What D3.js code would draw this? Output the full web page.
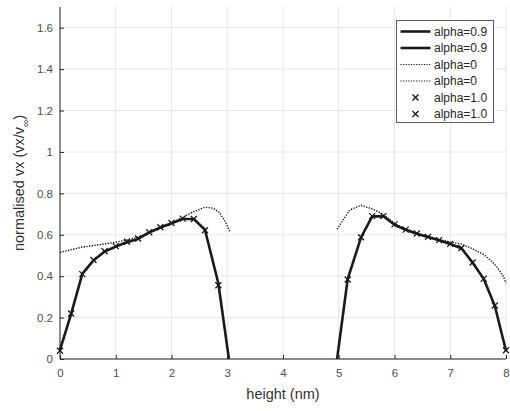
<!DOCTYPE html>
<html>
<head>
<meta charset="utf-8">
<script src="https://cdn.jsdelivr.net/npm/d3@7"></script>
<style>
  html, body { margin: 0; padding: 0; background: #fff; }
  svg { display: block; font-family: "Liberation Sans", Arial, Helvetica, sans-serif; }
</style>
</head>
<body>
<svg id="chart" width="510" height="411"></svg>
<script>
// Velocity profiles across the channel height (left wall region and right wall region)
const leftX      = [0, 0.2, 0.4, 0.6, 0.8, 1.0, 1.2, 1.4, 1.6, 1.8, 2.0, 2.2, 2.4, 2.6, 2.84, 3.03];
const leftSolid  = [0.044, 0.218, 0.411, 0.476, 0.519, 0.543, 0.564, 0.580, 0.611, 0.635, 0.656, 0.676, 0.676, 0.624, 0.366, 0];
const rightX     = [4.97, 5.16, 5.4, 5.6, 5.8, 6.0, 6.2, 6.4, 6.6, 6.8, 7.0, 7.2, 7.4, 7.6, 7.8, 8.0];
const rightSolid = [0, 0.386, 0.587, 0.689, 0.689, 0.648, 0.624, 0.605, 0.589, 0.573, 0.555, 0.535, 0.466, 0.387, 0.256, 0.040];

// alpha = 0 profiles (dotted)
const leftDotX   = [0, 0.2, 0.4, 0.6, 0.8, 1.0, 1.2, 1.4, 1.6, 1.8, 2.0, 2.2, 2.4, 2.6, 2.75, 2.85, 2.95, 3.05];
const leftDot    = [0.515, 0.528, 0.540, 0.548, 0.556, 0.564, 0.575, 0.588, 0.610, 0.633, 0.656, 0.685, 0.712, 0.733, 0.728, 0.710, 0.670, 0.615];
const rightDotX  = [4.97, 5.1, 5.2, 5.4, 5.6, 5.8, 6.0, 6.2, 6.4, 6.6, 6.8, 7.0, 7.2, 7.4, 7.6, 7.75, 7.85, 7.95, 8.0];
const rightDot   = [0.627, 0.680, 0.720, 0.742, 0.725, 0.700, 0.655, 0.628, 0.608, 0.592, 0.577, 0.565, 0.555, 0.532, 0.505, 0.470, 0.440, 0.400, 0.366];

// alpha = 1.0 samples (markers only)
const leftMarkX  = [0, 0.2, 0.4, 0.6, 0.8, 1.0, 1.2, 1.4, 1.6, 1.8, 2.0, 2.2, 2.4, 2.6, 2.84];
const leftMark   = [0.040, 0.220, 0.410, 0.478, 0.520, 0.545, 0.566, 0.582, 0.612, 0.636, 0.657, 0.678, 0.676, 0.622, 0.356];
const rightMarkX = [5.16, 5.4, 5.6, 5.8, 6.0, 6.2, 6.4, 6.6, 6.8, 7.0, 7.2, 7.4, 7.6, 7.8, 8.0];
const rightMark  = [0.384, 0.588, 0.690, 0.690, 0.650, 0.625, 0.606, 0.590, 0.574, 0.556, 0.536, 0.466, 0.388, 0.258, 0.042];

const xTicks = [0, 1, 2, 3, 4, 5, 6, 7, 8];
const yTicks = [0, 0.2, 0.4, 0.6, 0.8, 1, 1.2, 1.4, 1.6];
const legendLabels = ["alpha=0.9", "alpha=0.9", "alpha=0", "alpha=0", "alpha=1.0", "alpha=1.0"];

const margin = { left: 60, right: 4, top: 7, bottom: 52 };
const W = 510, H = 411;
const svg = d3.select("#chart");

const x = d3.scaleLinear().domain([0, 8]).range([margin.left, W - margin.right]);
const y = d3.scaleLinear().domain([0, 1.7]).range([H - margin.bottom, margin.top]);

const axisColor = "#262626";
const gridColor = "#e6e6e6";
const lineColor = "#1a1a1a";

// grid
const grid = svg.append("g");
grid.selectAll("line.v").data(xTicks).join("line")
  .attr("x1", d => x(d)).attr("x2", d => x(d))
  .attr("y1", y(0)).attr("y2", y(1.7))
  .attr("stroke", gridColor).attr("stroke-width", 1);
grid.selectAll("line.h").data(yTicks).join("line")
  .attr("x1", x(0)).attr("x2", x(8))
  .attr("y1", d => y(d)).attr("y2", d => y(d))
  .attr("stroke", gridColor).attr("stroke-width", 1);

// axes (inward ticks)
const xAxis = d3.axisBottom(x).tickValues(xTicks).tickSize(-4).tickPadding(10).tickFormat(d3.format("d"));
const yAxis = d3.axisLeft(y).tickValues(yTicks).tickSize(-4).tickPadding(7).tickFormat(d => d === 0 ? "0" : d3.format("~g")(d));

const gx = svg.append("g").attr("transform", `translate(0,${y(0)})`).call(xAxis);
const gy = svg.append("g").attr("transform", `translate(${x(0)},0)`).call(yAxis);
[gx, gy].forEach(g => {
  g.select(".domain").attr("stroke", axisColor).attr("stroke-width", 1);
  g.selectAll(".tick line").attr("stroke", axisColor);
  g.selectAll(".tick text").attr("fill", "#4d4d4d").attr("font-size", "11.5px")
    .attr("font-family", "Liberation Sans, Arial, sans-serif");
});
gx.select(".domain").attr("d", `M${x(0)},0H${x(8)}`);
gy.select(".domain").attr("d", `M0,${y(0)}V${y(1.7)}`);

// axis labels
svg.append("text")
  .attr("x", (x(0) + x(8)) / 2).attr("y", 399)
  .attr("text-anchor", "middle").attr("font-size", "14.5px").attr("fill", "#333")
  .text("height (nm)");

const yl = svg.append("text")
  .attr("transform", `translate(24,${(y(0) + y(1.7)) / 2}) rotate(-90)`)
  .attr("text-anchor", "middle").attr("font-size", "14.5px").attr("fill", "#333");
yl.append("tspan").text("normalised vx (vx/v");
yl.append("tspan").attr("font-size", "10px").attr("dy", "5").text("\u221E");
yl.append("tspan").attr("dy", "-5").text(")");

// series
const line = d3.line().x(d => x(d[0])).y(d => y(d[1]));
const zip = (xs, ys) => xs.map((v, i) => [v, ys[i]]);

const plot = svg.append("g");
function drawSolid(xs, ys) {
  plot.append("path").datum(zip(xs, ys)).attr("d", line)
    .attr("fill", "none").attr("stroke", lineColor).attr("stroke-width", 2.6)
    .attr("stroke-linejoin", "round");
}
function drawDotted(xs, ys) {
  plot.append("path").datum(zip(xs, ys)).attr("d", line)
    .attr("fill", "none").attr("stroke", "#111").attr("stroke-width", 1.4)
    .attr("stroke-dasharray", "1.3,1.4");
}
function drawMarks(xs, ys) {
  const s = 3;
  plot.append("g").selectAll("path").data(zip(xs, ys)).join("path")
    .attr("d", d => `M${x(d[0]) - s},${y(d[1]) - s}L${x(d[0]) + s},${y(d[1]) + s}M${x(d[0]) - s},${y(d[1]) + s}L${x(d[0]) + s},${y(d[1]) - s}`)
    .attr("stroke", lineColor).attr("stroke-width", 1.3).attr("fill", "none");
}
drawDotted(leftDotX, leftDot);
drawDotted(rightDotX, rightDot);
drawSolid(leftX, leftSolid);
drawSolid(rightX, rightSolid);
drawMarks(leftMarkX, leftMark);
drawMarks(rightMarkX, rightMark);

// legend
const lg = svg.append("g");
const lx0 = 396.5, ly0 = 20.5, lw = 97, lh = 102;
lg.append("rect").attr("x", lx0).attr("y", ly0).attr("width", lw).attr("height", lh)
  .attr("fill", "#fff").attr("stroke", "#5a5a5a").attr("stroke-width", 1);
const kinds = ["solid", "solid", "dotted", "dotted", "mark", "mark"];
legendLabels.forEach((t, i) => {
  const cy = 31.5 + i * 16.5;
  if (kinds[i] === "solid") {
    lg.append("line").attr("x1", 400.5).attr("x2", 430.5).attr("y1", cy).attr("y2", cy)
      .attr("stroke", lineColor).attr("stroke-width", 2.6);
  } else if (kinds[i] === "dotted") {
    lg.append("line").attr("x1", 400.5).attr("x2", 430.5).attr("y1", cy).attr("y2", cy)
      .attr("stroke", "#111").attr("stroke-width", 1.2).attr("stroke-dasharray", "1.2,1.4");
  } else {
    const s = 3, mx = 415.5;
    lg.append("path")
      .attr("d", `M${mx - s},${cy - s}L${mx + s},${cy + s}M${mx - s},${cy + s}L${mx + s},${cy - s}`)
      .attr("stroke", lineColor).attr("stroke-width", 1.4);
  }
  lg.append("text").attr("x", 434).attr("y", cy).attr("dy", "0.36em")
    .attr("font-size", "12px").attr("fill", "#262626").text(t);
});
</script>
</body>
</html>
